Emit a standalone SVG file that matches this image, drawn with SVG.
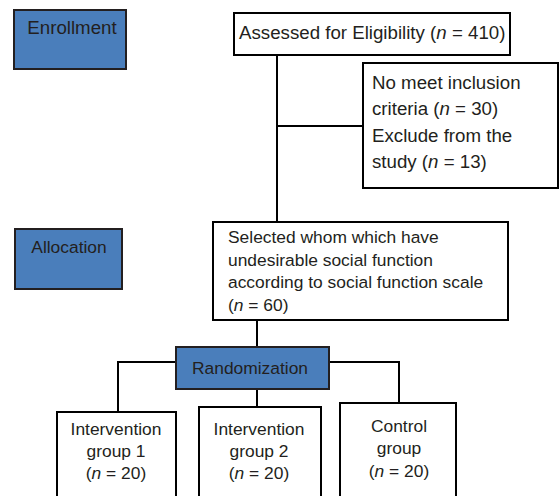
<svg xmlns="http://www.w3.org/2000/svg" width="559" height="496" viewBox="0 0 559 496">
<style>
.box{fill:#fff;stroke:#000;stroke-width:2}
.blue{fill:#4a7ebb;stroke:#231f20;stroke-width:2}
.t{font-family:"Liberation Sans",Arial,sans-serif;font-size:17.4px;fill:#231f20}
.big{font-size:18.7px}
.c{text-anchor:middle}
.ln{fill:none;stroke:#000;stroke-width:2}
</style>
<rect width="559" height="496" fill="#fff"/>
<g id="connectors">
<path class="ln" d="M277 55V222"/>
<path class="ln" d="M277 126H363"/>
<path class="ln" d="M257 320V347"/>
<path class="ln" d="M176 362H118V412"/>
<path class="ln" d="M329 362H399V403"/>
<path class="ln" d="M257 389V407"/>
</g>
<g id="enrollment">
<rect class="blue" x="14" y="10" width="112" height="59"/>
<text class="t big c" x="72" y="34">Enrollment</text>
</g>
<g id="assessed">
<rect class="box" x="234" y="13" width="276" height="42"/>
<text class="t big" x="239" y="39">Assessed for Eligibility (<tspan font-style="italic">n</tspan> = 410)</text>
</g>
<g id="excluded">
<rect class="box" x="363" y="63" width="195" height="125"/>
<text class="t big" x="372" y="89">No meet inclusion</text>
<text class="t big" x="372" y="115">criteria (<tspan font-style="italic">n</tspan> = 30)</text>
<text class="t big" x="372" y="142">Exclude from the</text>
<text class="t big" x="372" y="168">study (<tspan font-style="italic">n</tspan> = 13)</text>
</g>
<g id="allocation">
<rect class="blue" x="15" y="229" width="107" height="60"/>
<text class="t c" x="69" y="253">Allocation</text>
</g>
<g id="selected">
<rect class="box" x="213" y="222" width="295" height="98"/>
<text class="t" x="228" y="243">Selected whom which have</text>
<text class="t" x="228" y="266">undesirable social function</text>
<text class="t" x="228" y="288">according to social function scale</text>
<text class="t" x="228" y="311">(<tspan font-style="italic">n</tspan> = 60)</text>
</g>
<g id="randomization">
<rect class="blue" x="176" y="347" width="153" height="42"/>
<text class="t c" x="250" y="374">Randomization</text>
</g>
<g id="group1">
<rect class="box" x="57" y="412" width="119" height="90"/>
<text class="t c" x="116" y="435">Intervention</text>
<text class="t c" x="116" y="457">group 1</text>
<text class="t c" x="116" y="479">(<tspan font-style="italic">n</tspan> = 20)</text>
</g>
<g id="group2">
<rect class="box" x="199" y="407" width="122" height="95"/>
<text class="t c" x="259" y="435">Intervention</text>
<text class="t c" x="259" y="457">group 2</text>
<text class="t c" x="259" y="479">(<tspan font-style="italic">n</tspan> = 20)</text>
</g>
<g id="control">
<rect class="box" x="340" y="403" width="116" height="99"/>
<text class="t c" x="399" y="432">Control</text>
<text class="t c" x="399" y="454">group</text>
<text class="t c" x="399" y="477">(<tspan font-style="italic">n</tspan> = 20)</text>
</g>
</svg>
